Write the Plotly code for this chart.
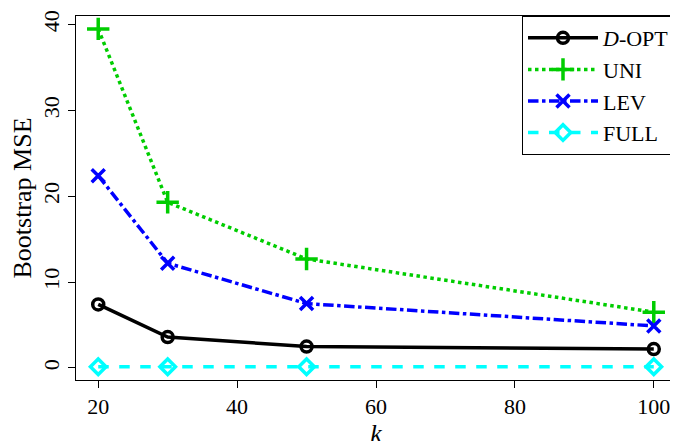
import plotly.graph_objects as go

k = [20, 30, 50, 100]
d_opt = [7.4, 3.6, 2.5, 2.2]
uni = [39.5, 19.3, 12.7, 6.5]
lev = [22.4, 12.2, 7.5, 4.9]
full = [0.15, 0.15, 0.15, 0.15]

series = [
    ("<i>D</i>-OPT", d_opt, "black", "solid", "circle-open", 11),
    ("UNI", uni, "#00CD00", "dot", "cross-thin-open", 16),
    ("LEV", lev, "#0000FF", "dashdot", "x-thin-open", 13),
    ("FULL", full, "#00FFFF", "dash", "diamond-open", 12),
]

fig = go.Figure()
for name, y, c, dash, sym, sz in series:
    fig.add_trace(go.Scatter(
        x=k, y=y, name=name, mode="lines+markers",
        line=dict(color=c, width=3.5, dash=dash),
        marker=dict(symbol=sym, size=sz, color=c, line=dict(color=c, width=3.5)),
    ))

font = dict(family="Liberation Serif, DejaVu Serif, serif", size=22, color="black")
fig.update_layout(
    width=678, height=441, margin=dict(l=68, r=10, t=8, b=69, autoexpand=False),
    plot_bgcolor="white", paper_bgcolor="white", font=font,
    legend=dict(x=1, y=1, xanchor="right", yanchor="top", bordercolor="black",
                borderwidth=1, bgcolor="white", font=dict(size=22),
                itemwidth=70, tracegroupgap=12),
)
fig.update_xaxes(range=[16.8, 103.2], tickvals=[20, 40, 60, 80, 100], automargin=False,
                 showgrid=False, zeroline=False, showline=True, linecolor="black",
                 mirror=True, ticks="outside", ticklen=7, tickcolor="black",
                 title=dict(text="<i>k</i>", standoff=0))
fig.update_yaxes(range=[-1.4, 41], tickvals=[0, 10, 20, 30, 40], tickangle=-90, automargin=False,
                 showgrid=False, zeroline=False, showline=True, linecolor="black",
                 mirror=True, ticks="outside", ticklen=7, tickcolor="black",
                 title=dict(text="Bootstrap MSE", standoff=6))
fig.write_html("out.html")
